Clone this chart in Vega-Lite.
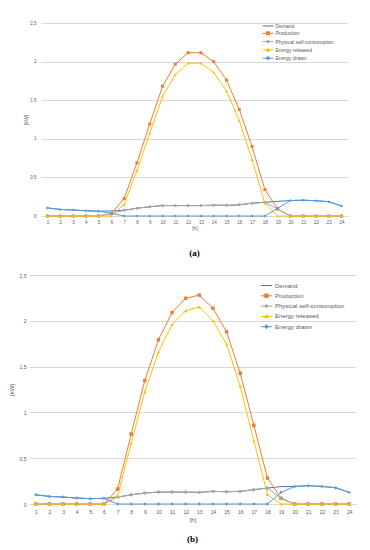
{
  "$schema": "https://vega.github.io/schema/vega-lite/v6.json",
  "background": "white",
  "padding": {"left": 1, "top": 20, "right": 2, "bottom": 2},
  "spacing": 15,
  "resolve": {"scale": {"x": "independent", "y": "independent", "color": "independent", "shape": "independent"}, "legend": {"color": "independent"}},
  "datasets": {
    "a": [
      {"h": 1, "Demand": 0.105, "Production": 0, "Physical self-consumption": 0, "Energy released": 0, "Energy drawn": 0.105},
      {"h": 2, "Demand": 0.085, "Production": 0, "Physical self-consumption": 0, "Energy released": 0, "Energy drawn": 0.085},
      {"h": 3, "Demand": 0.078, "Production": 0, "Physical self-consumption": 0, "Energy released": 0, "Energy drawn": 0.078},
      {"h": 4, "Demand": 0.068, "Production": 0, "Physical self-consumption": 0, "Energy released": 0, "Energy drawn": 0.068},
      {"h": 5, "Demand": 0.062, "Production": 0, "Physical self-consumption": 0, "Energy released": 0, "Energy drawn": 0.062},
      {"h": 6, "Demand": 0.065, "Production": 0.03, "Physical self-consumption": 0.03, "Energy released": 0, "Energy drawn": 0.035},
      {"h": 7, "Demand": 0.075, "Production": 0.226, "Physical self-consumption": 0.075, "Energy released": 0.15, "Energy drawn": 0},
      {"h": 8, "Demand": 0.1, "Production": 0.69, "Physical self-consumption": 0.1, "Energy released": 0.59, "Energy drawn": 0},
      {"h": 9, "Demand": 0.12, "Production": 1.19, "Physical self-consumption": 0.12, "Energy released": 1.07, "Energy drawn": 0},
      {"h": 10, "Demand": 0.135, "Production": 1.68, "Physical self-consumption": 0.135, "Energy released": 1.547, "Energy drawn": 0},
      {"h": 11, "Demand": 0.135, "Production": 1.966, "Physical self-consumption": 0.135, "Energy released": 1.83, "Energy drawn": 0},
      {"h": 12, "Demand": 0.135, "Production": 2.115, "Physical self-consumption": 0.135, "Energy released": 1.98, "Energy drawn": 0},
      {"h": 13, "Demand": 0.135, "Production": 2.115, "Physical self-consumption": 0.135, "Energy released": 1.98, "Energy drawn": 0},
      {"h": 14, "Demand": 0.14, "Production": 2.0, "Physical self-consumption": 0.14, "Energy released": 1.86, "Energy drawn": 0},
      {"h": 15, "Demand": 0.138, "Production": 1.76, "Physical self-consumption": 0.138, "Energy released": 1.62, "Energy drawn": 0},
      {"h": 16, "Demand": 0.145, "Production": 1.38, "Physical self-consumption": 0.145, "Energy released": 1.235, "Energy drawn": 0},
      {"h": 17, "Demand": 0.165, "Production": 0.9, "Physical self-consumption": 0.165, "Energy released": 0.73, "Energy drawn": 0},
      {"h": 18, "Demand": 0.178, "Production": 0.343, "Physical self-consumption": 0.178, "Energy released": 0.165, "Energy drawn": 0},
      {"h": 19, "Demand": 0.19, "Production": 0.09, "Physical self-consumption": 0.09, "Energy released": 0, "Energy drawn": 0.1},
      {"h": 20, "Demand": 0.2, "Production": 0, "Physical self-consumption": 0, "Energy released": 0, "Energy drawn": 0.2},
      {"h": 21, "Demand": 0.205, "Production": 0, "Physical self-consumption": 0, "Energy released": 0, "Energy drawn": 0.205},
      {"h": 22, "Demand": 0.198, "Production": 0, "Physical self-consumption": 0, "Energy released": 0, "Energy drawn": 0.198},
      {"h": 23, "Demand": 0.185, "Production": 0, "Physical self-consumption": 0, "Energy released": 0, "Energy drawn": 0.185},
      {"h": 24, "Demand": 0.13, "Production": 0, "Physical self-consumption": 0, "Energy released": 0, "Energy drawn": 0.13}
    ],
    "b": [
      {"h": 1, "Demand": 0.1, "Production": 0, "Physical self-consumption": 0, "Energy released": 0, "Energy drawn": 0.1},
      {"h": 2, "Demand": 0.083, "Production": 0, "Physical self-consumption": 0, "Energy released": 0, "Energy drawn": 0.083},
      {"h": 3, "Demand": 0.076, "Production": 0, "Physical self-consumption": 0, "Energy released": 0, "Energy drawn": 0.076},
      {"h": 4, "Demand": 0.065, "Production": 0, "Physical self-consumption": 0, "Energy released": 0, "Energy drawn": 0.065},
      {"h": 5, "Demand": 0.058, "Production": 0, "Physical self-consumption": 0, "Energy released": 0, "Energy drawn": 0.058},
      {"h": 6, "Demand": 0.062, "Production": 0, "Physical self-consumption": 0, "Energy released": 0, "Energy drawn": 0.062},
      {"h": 7, "Demand": 0.076, "Production": 0.163, "Physical self-consumption": 0.076, "Energy released": 0.087, "Energy drawn": 0},
      {"h": 8, "Demand": 0.1, "Production": 0.764, "Physical self-consumption": 0.1, "Energy released": 0.663, "Energy drawn": 0},
      {"h": 9, "Demand": 0.12, "Production": 1.348, "Physical self-consumption": 0.12, "Energy released": 1.225, "Energy drawn": 0},
      {"h": 10, "Demand": 0.13, "Production": 1.793, "Physical self-consumption": 0.13, "Energy released": 1.66, "Energy drawn": 0},
      {"h": 11, "Demand": 0.13, "Production": 2.09, "Physical self-consumption": 0.13, "Energy released": 1.96, "Energy drawn": 0},
      {"h": 12, "Demand": 0.13, "Production": 2.246, "Physical self-consumption": 0.13, "Energy released": 2.11, "Energy drawn": 0},
      {"h": 13, "Demand": 0.127, "Production": 2.28, "Physical self-consumption": 0.127, "Energy released": 2.152, "Energy drawn": 0},
      {"h": 14, "Demand": 0.138, "Production": 2.138, "Physical self-consumption": 0.138, "Energy released": 2.0, "Energy drawn": 0},
      {"h": 15, "Demand": 0.134, "Production": 1.88, "Physical self-consumption": 0.134, "Energy released": 1.746, "Energy drawn": 0},
      {"h": 16, "Demand": 0.138, "Production": 1.428, "Physical self-consumption": 0.138, "Energy released": 1.286, "Energy drawn": 0},
      {"h": 17, "Demand": 0.156, "Production": 0.86, "Physical self-consumption": 0.156, "Energy released": 0.69, "Energy drawn": 0},
      {"h": 18, "Demand": 0.174, "Production": 0.283, "Physical self-consumption": 0.174, "Energy released": 0.105, "Energy drawn": 0},
      {"h": 19, "Demand": 0.19, "Production": 0.062, "Physical self-consumption": 0.062, "Energy released": 0, "Energy drawn": 0.127},
      {"h": 20, "Demand": 0.192, "Production": 0, "Physical self-consumption": 0, "Energy released": 0, "Energy drawn": 0.192},
      {"h": 21, "Demand": 0.2, "Production": 0, "Physical self-consumption": 0, "Energy released": 0, "Energy drawn": 0.2},
      {"h": 22, "Demand": 0.192, "Production": 0, "Physical self-consumption": 0, "Energy released": 0, "Energy drawn": 0.192},
      {"h": 23, "Demand": 0.178, "Production": 0, "Physical self-consumption": 0, "Energy released": 0, "Energy drawn": 0.178},
      {"h": 24, "Demand": 0.127, "Production": 0, "Physical self-consumption": 0, "Energy released": 0, "Energy drawn": 0.127}
    ]
  },
  "vconcat": [
    {
      "spacing": 0,
      "resolve": {"scale": {"color": "independent", "shape": "independent"}, "legend": {"color": "independent"}},
      "hconcat": [
        {"width": 22, "height": 1, "data": {"values": []}, "mark": "point"},
        {
          "width": 307,
          "height": 193,
          "data": {"name": "a"},
          "transform": [{"fold": ["Demand", "Production", "Physical self-consumption", "Energy released", "Energy drawn"], "as": ["series", "kW"]}],
          "title": {"text": "(a)", "orient": "bottom", "anchor": "middle", "font": "Liberation Serif", "fontWeight": "bold", "fontSize": 9, "color": "#000000", "offset": 18},
          "encoding": {
            "x": {"field": "h", "type": "ordinal", "scale": {"type": "point", "padding": 0.5},
              "axis": {"title": "[h]", "labelAngle": 0, "labelFontSize": 4.5, "titleFontSize": 5, "labelPadding": 3, "titlePadding": 2, "labelOverlap": false, "grid": false, "ticks": false, "domainColor": "#d9d9d9"}},
            "y": {"field": "kW", "type": "quantitative", "scale": {"domain": [0, 2.5], "nice": false},
              "axis": {"title": "[kW]", "values": [0, 0.5, 1, 1.5, 2, 2.5], "format": "~g", "labelFontSize": 4.5, "titleFontSize": 5, "labelPadding": 5, "titlePadding": 1, "domain": false, "ticks": false, "gridColor": "#d9d9d9"}},
            "color": {"field": "series", "type": "nominal",
              "scale": {"domain": ["Demand", "Production", "Physical self-consumption", "Energy released", "Energy drawn"], "range": ["#4472C4", "#ED7D31", "#A5A5A5", "#FFC000", "#5B9BD5"]},
              "legend": {"title": null, "orient": "none", "legendX": 224, "legendY": 0, "padding": 0, "symbolSize": 25, "symbolStrokeWidth": 1, "labelFontSize": 5, "labelFont": "Liberation Sans", "labelColor": "#595959", "labelOffset": 4.5, "rowPadding": 0.3,
                "encode": {"symbols": {"update": {
                  "shape": {"signal": "datum.value==='Demand'?'M-2.2,0H2.2':datum.value==='Production'?'M-2.2,0H2.2M-0.6,-0.6H0.6V0.6H-0.6Z':datum.value==='Physical self-consumption'?'M-2.2,0H2.2M0.5,0A0.5,0.5,0,1,1,-0.5,0A0.5,0.5,0,1,1,0.5,0Z':datum.value==='Energy released'?'M-2.2,0H2.2M0,-0.65L0.65,0.5H-0.65Z':'M-2.2,0H2.2M0,-0.75L0.75,0L0,0.75L-0.75,0Z'"},
                  "fill": {"signal": "datum.value==='Production'?'#ED7D31':datum.value==='Physical self-consumption'?'#A5A5A5':datum.value==='Energy released'?'#FFC000':datum.value==='Energy drawn'?'#5B9BD5':'transparent'"},
                  "opacity": {"value": 1}
                }}}}}
          },
          "layer": [
            {"mark": {"type": "line", "strokeWidth": 1}},
            {"transform": [{"filter": "datum.series !== 'Demand'"}],
              "mark": {"type": "point", "filled": true, "opacity": 1, "size": 9},
              "encoding": {"shape": {"field": "series", "type": "nominal", "scale": {"domain": ["Production", "Physical self-consumption", "Energy released", "Energy drawn"], "range": ["square", "circle", "triangle-up", "diamond"]}, "legend": null}}}
          ]
        }
      ]
    },
    {
      "spacing": 0,
      "resolve": {"scale": {"color": "independent", "shape": "independent"}, "legend": {"color": "independent"}},
      "hconcat": [
        {"width": 7, "height": 1, "data": {"values": []}, "mark": "point"},
        {
          "width": 327,
          "height": 229,
          "data": {"name": "b"},
          "transform": [{"fold": ["Demand", "Production", "Physical self-consumption", "Energy released", "Energy drawn"], "as": ["series", "kW"]}],
          "title": {"text": "(b)", "orient": "bottom", "anchor": "middle", "font": "Liberation Serif", "fontWeight": "bold", "fontSize": 9, "color": "#000000", "offset": 13},
          "encoding": {
            "x": {"field": "h", "type": "ordinal", "scale": {"type": "point", "padding": 0.5},
              "axis": {"title": "[h]", "labelAngle": 0, "labelFontSize": 5, "titleFontSize": 6, "labelPadding": 5, "titlePadding": 2, "labelOverlap": false, "grid": false, "ticks": false, "domainColor": "#d9d9d9"}},
            "y": {"field": "kW", "type": "quantitative", "scale": {"domain": [0, 2.5], "nice": false},
              "axis": {"title": "[kW]", "values": [0, 0.5, 1, 1.5, 2, 2.5], "format": "~g", "labelFontSize": 5, "titleFontSize": 6, "labelPadding": 3, "titlePadding": 5, "domain": false, "ticks": false, "gridColor": "#d9d9d9"}},
            "color": {"field": "series", "type": "nominal",
              "scale": {"domain": ["Demand", "Production", "Physical self-consumption", "Energy released", "Energy drawn"], "range": ["#4472C4", "#ED7D31", "#A5A5A5", "#FFC000", "#5B9BD5"]},
              "legend": {"title": null, "orient": "none", "legendX": 234, "legendY": 7, "padding": 0, "symbolSize": 33, "symbolStrokeWidth": 1, "labelFontSize": 6, "labelFont": "Liberation Sans", "labelColor": "#595959", "labelOffset": 5, "rowPadding": 2.3,
                "encode": {"symbols": {"update": {
                  "shape": {"signal": "datum.value==='Demand'?'M-2,0H2':datum.value==='Production'?'M-2,0H2M-0.6,-0.6H0.6V0.6H-0.6Z':datum.value==='Physical self-consumption'?'M-2,0H2M0.45,0A0.45,0.45,0,1,1,-0.45,0A0.45,0.45,0,1,1,0.45,0Z':datum.value==='Energy released'?'M-2,0H2M0,-0.6L0.6,0.45H-0.6Z':'M-2,0H2M0,-0.7L0.7,0L0,0.7L-0.7,0Z'"},
                  "fill": {"signal": "datum.value==='Production'?'#ED7D31':datum.value==='Physical self-consumption'?'#A5A5A5':datum.value==='Energy released'?'#FFC000':datum.value==='Energy drawn'?'#5B9BD5':'transparent'"},
                  "opacity": {"value": 1}
                }}}}}
          },
          "layer": [
            {"mark": {"type": "line", "strokeWidth": 1}},
            {"transform": [{"filter": "datum.series !== 'Demand'"}],
              "mark": {"type": "point", "filled": true, "opacity": 1, "size": 12},
              "encoding": {"shape": {"field": "series", "type": "nominal", "scale": {"domain": ["Production", "Physical self-consumption", "Energy released", "Energy drawn"], "range": ["square", "circle", "triangle-up", "diamond"]}, "legend": null}}}
          ]
        }
      ]
    }
  ],
  "config": {
    "view": {"stroke": null},
    "font": "Liberation Sans",
    "axis": {"labelColor": "#595959", "titleColor": "#595959", "titleFontWeight": "normal", "labelFont": "Liberation Sans", "titleFont": "Liberation Sans"}
  }
}
